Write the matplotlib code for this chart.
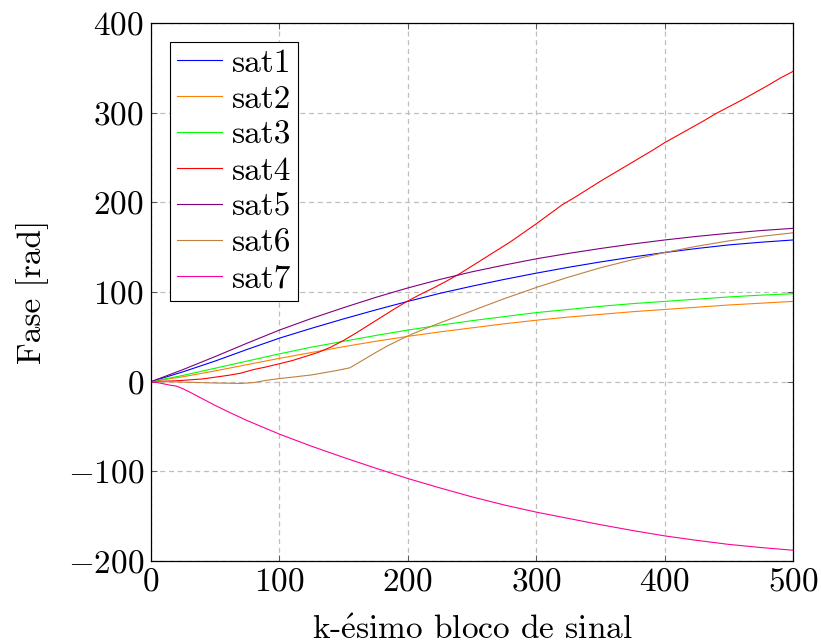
import matplotlib
matplotlib.use("Agg")
import matplotlib.pyplot as plt

plt.rcParams["font.family"] = "serif"
plt.rcParams["font.serif"] = ["cmr10"]
plt.rcParams["mathtext.fontset"] = "cm"
plt.rcParams["axes.formatter.use_mathtext"] = True

# phase per signal block, read every 25 blocks for the smooth curves
k_smooth = [0, 25, 50, 75, 100, 125, 150, 175, 200, 225, 250, 275, 300,
            325, 350, 375, 400, 425, 450, 475, 500]
sat1 = [0, 11, 23, 36, 48.5, 59.5, 70, 80, 89.5, 98.5, 106.5, 114, 121,
        127.5, 133.5, 139, 144, 148.5, 152.5, 155.5, 158]
sat2 = [0, 5.5, 12, 19, 26, 32.5, 39, 45, 50.5, 55.5, 60, 64.5, 68.5,
        72, 75, 78, 80.5, 83, 85.5, 87.5, 89.5]
sat3 = [0, 7, 15, 23, 31, 38.5, 45, 51.5, 57.5, 63, 68, 72.5, 77,
        80.5, 84, 87, 89.5, 92, 94.5, 96.5, 98]
sat5 = [0, 13.5, 28, 43, 57.5, 70.5, 82.5, 94, 104.5, 114, 122.5, 130, 137,
        143, 148.5, 153.5, 158, 162, 165.5, 168.5, 171]

k_sat4 = list(range(0, 501, 10))
sat4 = [0, 0.5, 1, 2, 3, 5, 7, 9.5, 13.5, 16.5,
        20, 23.5, 28, 32.5, 38.5, 46, 54.5, 63.5, 72.5, 81.5,
        90, 97.5, 104.5, 112, 120, 129, 138, 147, 156, 166,
        176, 186.5, 197, 205.5, 214.5, 223.5, 232, 240.5, 249, 257.5,
        266.5, 274.5, 282.5, 290.5, 299, 306.5, 314, 322, 330, 338.5,
        346]

k_sat6 = [0, 10, 25, 50, 70, 80, 90, 100, 110, 125, 135, 145, 155, 165,
          175, 185, 200, 210, 225, 250, 275, 300, 325, 350, 375, 400, 425,
          450, 475, 500]
sat6 = [0, 0, -0.5, -1.5, -2, -1, 1.5, 3.5, 5, 7.5, 10, 12.5, 15.5, 24,
        32.5, 40.5, 51, 57, 65.5, 79, 92.5, 105, 116.5, 127, 136, 144, 151,
        157, 162, 166]

k_sat7 = [0, 5, 10, 15, 20, 25, 30, 40, 50, 60, 75, 100, 125, 150, 175, 200,
          225, 250, 275, 300, 325, 350, 375, 400, 425, 450, 475, 500]
sat7 = [0, -1, -2.5, -4, -5, -8, -11.5, -19, -26.5, -33.5, -43.5, -58.5,
        -72, -84.5, -96.5, -108, -118.5, -128.5, -137.5, -145.5, -152.5,
        -159.5, -166, -172, -177, -181.5, -185, -188]

fig = plt.figure(figsize=(8.21, 6.44), dpi=100)
ax = fig.add_axes([0.1839, 0.1289, 0.782, 0.8354])

lw = 0.8
ax.plot(k_smooth, sat1, color="#0000ff", lw=lw, label="sat1")
ax.plot(k_smooth, sat2, color="#ff8000", lw=lw, label="sat2")
ax.plot(k_smooth, sat3, color="#00ff00", lw=lw, label="sat3")
ax.plot(k_sat4, sat4, color="#ff0000", lw=lw, label="sat4")
ax.plot(k_smooth, sat5, color="#800080", lw=lw, label="sat5")
ax.plot(k_sat6, sat6, color="#bf8040", lw=lw, label="sat6")
ax.plot(k_sat7, sat7, color="#ff0099", lw=lw, label="sat7")

ax.set_xlim(0, 500)
ax.set_ylim(-200, 400)
ax.set_xticks(range(0, 501, 100))
ax.set_yticks(range(-200, 401, 100))
ax.grid(True, color="#bfbfbf", linestyle=(0, (4, 3)), linewidth=0.9)
ax.tick_params(direction="in", top=True, right=True, length=4,
               width=0.6, color="#444444", labelsize=24, pad=5)
for s in ax.spines.values():
    s.set_linewidth(0.9)

ax.set_xlabel(r"k-$\acute{\mathrm{e}}$simo bloco de sinal", fontsize=24, labelpad=13)
ax.set_ylabel("Fase [rad]", fontsize=24, labelpad=13)

leg = ax.legend(loc="upper left", fontsize=24, frameon=True, fancybox=False,
                edgecolor="black", framealpha=1, handlelength=1.35,
                handletextpad=0.3, labelspacing=0.2, borderpad=0.2,
                borderaxespad=0.57)
leg.get_frame().set_linewidth(0.8)

fig.savefig("out.png", dpi=100)
